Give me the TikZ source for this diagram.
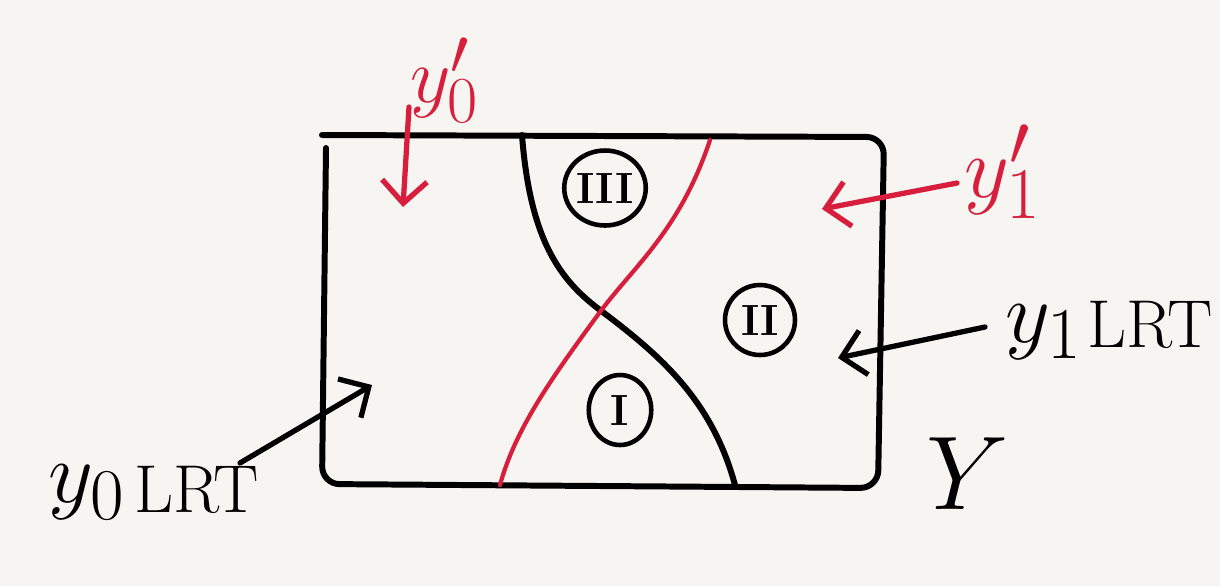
\documentclass[tikz,border=0pt]{standalone}
\usepackage{graphicx}
\usetikzlibrary{arrows.meta,shapes.geometric}
\definecolor{pen}{RGB}{215,30,60}
\definecolor{paper}{RGB}{246,245,241}
\newcommand{\bigtxt}[2]{\scalebox{#1}{\Huge #2}}
\begin{document}
\begin{tikzpicture}[x=0.02cm,y=-0.02cm,
  ink/.style={line width=3.4pt,black,line cap=round,line join=round},
  redink/.style={line width=2.4pt,pen,line cap=round},
  arr/.style={line width=3pt,line cap=round,-{Straight Barb[length=0.45cm,width=0.9cm]}},
  lab/.style={inner sep=0pt},
  roman/.style={draw,ellipse,line width=2.6pt,inner sep=0pt,font=\Huge\bfseries}]
\fill[paper] (0,0) rectangle (1220,586);
\useasboundingbox (0,0) rectangle (1220,586);
% frame
\draw[ink,rounded corners=10pt] (322,135) -- (884,137) -- (878,488) -- (322,484) -- (326,148);
% black separating curve
\draw[ink] (522,135) .. controls (530,240) and (560,280) .. (600,310)
                    .. controls (660,355) and (712,400) .. (735,485);
% red separating curve
\draw[redink] (710,140) .. controls (680,230) and (635,265) .. (600,312)
                        .. controls (550,380) and (515,430) .. (500,485);
% region labels
\node[roman,minimum width=1.45cm,minimum height=1.5cm] (r3) at (605,188) {III};
\node[roman,minimum width=1.4cm,minimum height=1.4cm] (r2) at (760,320) {II};
\node[roman,minimum width=1.25cm,minimum height=1.4cm] (r1) at (620,410) {I};
% labels
\node[lab,text=pen] (y0p) at (445,80) {\bigtxt{1.8}{$y_0'$}};
\node[lab,text=pen] (y1p) at (1003,172) {\bigtxt{2}{$y_1'$}};
\node[lab,anchor=west] (y1l) at (1005,330) {\bigtxt{2}{$y_1$}\hspace{3pt}\raisebox{-3pt}{\bigtxt{1.55}{LRT}}};
\node[lab,anchor=west] (y0l) at (48,492) {\bigtxt{2}{$y_0$}\hspace{5pt}\raisebox{-6pt}{\bigtxt{1.55}{LRT}}};
\node[lab] (Yl) at (968,474) {\bigtxt{2.4}{$Y$}};
% arrows
\coordinate (a0s) at (409,107); \coordinate (a0e) at (403,207);
\coordinate (a1s) at (957,183); \coordinate (a1e) at (822,209);
\coordinate (b1s) at (985,327); \coordinate (b1e) at (838,358);
\coordinate (b0s) at (240,463); \coordinate (b0e) at (372,385);
\draw[arr,pen] (a0s) -- (a0e);
\draw[arr,pen] (a1s) -- (a1e);
\draw[arr] (b1s) -- (b1e);
\draw[arr] (b0s) -- (b0e);
\end{tikzpicture}
\end{document}
